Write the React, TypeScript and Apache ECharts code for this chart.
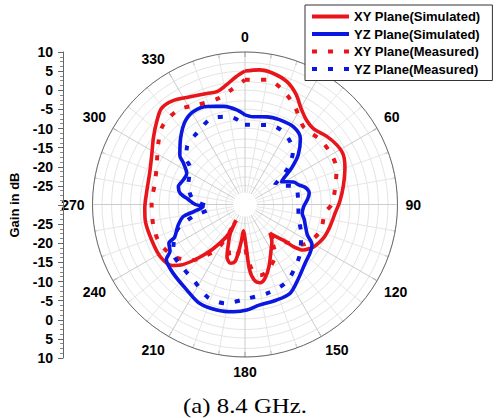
import React, { useEffect, useRef } from "react";
import * as echarts from "echarts";

// Radiation pattern at 8.4 GHz — angle in degrees (clockwise from 0 at top), gain in dB
const xySimAngle = [0, 6, 12, 19, 25, 30, 36, 42, 50, 57, 63, 70, 79, 88, 95, 105, 113, 121, 124, 128, 131, 133, 136, 139, 144, 150, 159, 165, 169, 173, 176, 178, 181, 183.5, 185.5, 188, 190, 194, 199, 203, 207, 208.5, 210, 216, 221, 226, 230, 238, 249, 261, 268, 277, 289, 298, 306, 313, 319, 325, 333, 341, 346, 351, 356, 360];
const xySimGain = [5.0, 5.5, 5.2, 4.0, 1.8, -0.7, -2.6, -3.2, -2.1, -1.3, -1.1, -2.1, -3.7, -5.1, -6.2, -7.0, -7.6, -8.7, -9.4, -10.6, -13.2, -16.3, -18.3, -20.0, -18.0, -16.3, -12.5, -9.9, -9.1, -10.0, -12.8, -18.1, -22.0, -23.1, -20.6, -17.1, -14.8, -14.1, -15.5, -18.9, -21.5, -24.4, -20.3, -15.5, -11.5, -7.3, -5.1, -3.9, -3.8, -3.5, -3.7, -4.0, -3.6, -2.3, -0.3, 1.7, 3.4, 3.2, 1.7, 0.8, 0.5, 1.7, 3.6, 5.0];

const yzSimAngle = [0, 5, 14, 22, 32, 40, 47, 52, 56, 58, 65, 70, 74, 80, 85, 92, 99, 104, 110, 116, 121, 127, 134, 144, 153, 162, 172, 179, 186, 195, 205, 214, 226, 235, 238, 243, 245, 253, 259, 262, 267, 270, 275, 280, 285, 292, 298, 304, 307, 316, 324, 331, 339, 348, 355, 360];
const yzSimGain = [-6.5, -6.9, -6.3, -6.0, -6.0, -7.4, -10.9, -14.5, -17.8, -18.7, -16.0, -15.0, -13.6, -12.9, -13.5, -14.6, -14.8, -14.0, -13.1, -11.8, -9.5, -8.7, -8.0, -6.1, -3.9, -3.6, -3.35, -2.3, -1.7, -1.35, -1.5, -2.85, -3.9, -4.8, -6.8, -7.6, -9.6, -11.7, -13.5, -16.3, -19.0, -17.0, -15.1, -12.7, -11.9, -12.6, -12.7, -10.5, -8.6, -5.7, -3.2, -2.1, -2.45, -3.7, -5.1, -6.5];

const xyMeasAngle = [0, 10, 18, 27, 37, 49, 60, 69, 80, 90, 96, 110, 125, 133, 141, 149, 162, 168, 173, 178, 183, 187, 191, 197, 203, 206, 209, 211, 217, 223, 233, 245, 256, 271, 284, 296, 305, 314, 325, 334, 346, 353, 360];
const xyMeasGain = [2.7, 3.2, 1.7, -1.2, -4.5, -4.0, -3.8, -4.3, -6.0, -7.3, -8.9, -9.1, -11.7, -15.5, -19.7, -14.6, -11.5, -11.0, -12.2, -16.5, -21.5, -18.0, -15.5, -16.0, -19.0, -20.0, -25.5, -17.0, -13.4, -10.1, -7.1, -5.5, -5.3, -5.5, -5.7, -4.3, -2.2, -0.1, 0.35, -1.0, -1.3, 0.25, 2.7];

const yzMeasAngle = [0, 17, 29, 42, 50, 57, 70, 85, 104, 117, 130, 143, 153, 166, 180, 191, 202, 214, 224, 236, 249, 257, 264, 275, 289, 304, 308, 315, 326, 339, 350, 360];
const yzMeasGain = [-9.1, -8.2, -8.6, -11.2, -15.5, -20.6, -16.1, -16.0, -15.5, -13.5, -11.0, -8.6, -6.8, -6.0, -5.2, -3.6, -3.8, -6.0, -6.7, -7.3, -10.8, -16.0, -20.8, -16.4, -14.3, -12.6, -10.5, -8.5, -7.4, -5.8, -6.6, -9.1];

const seriesNames = [
  "XY Plane(Simulated)",
  "YZ Plane(Simulated)",
  "XY Plane(Measured)",
  "YZ Plane(Measured)",
];

// Left gain scale: 10 at the rim, -30 at the centre, 10 again at the bottom rim
const scaleMin = 0;
const scaleMax = 80;
const scaleStep = 5;

const RED = "#e8151b";
const BLUE = "#0a17e0";
const FONT = 'Arial, "Liberation Sans", sans-serif';

const pairs = (angles: number[], gains: number[]) =>
  angles.map((a, i) => [gains[i], a]);

export default function App() {
  const ref = useRef<HTMLDivElement>(null);

  useEffect(() => {
    if (!ref.current) return;
    const chart = echarts.init(ref.current, null, { renderer: "svg" });

    const solid = (color: string) => ({
      color,
      width: 3.6,
      type: "solid" as const,
    });
    const dotted = (color: string) => ({
      color,
      width: 4,
      type: [5, 11] as number[],
    });

    const polarSeries = (i: number, color: string, line: object, data: number[][]) => ({
      name: seriesNames[i],
      type: "line",
      coordinateSystem: "polar",
      symbol: "none",
      smooth: 0.3,
      color,
      lineStyle: line,
      data,
    });

    chart.setOption({
      animation: false,
      polar: { center: [245, 204.5], radius: 152.5 },
      angleAxis: {
        type: "value",
        min: 0,
        max: 360,
        interval: 30,
        startAngle: 90,
        clockwise: true,
        axisLine: { show: true, lineStyle: { color: "#6a6a6a", width: 1 } },
        axisTick: { show: true, inside: true, length: 5, lineStyle: { color: "#6a6a6a" } },
        minorTick: { show: true, splitNumber: 3, length: 4, lineStyle: { color: "#8a8a8a" } },
        splitLine: { show: true, lineStyle: { color: "#cccccc", width: 1 } },
        minorSplitLine: { show: true, lineStyle: { color: "#e6e6e6", width: 1 } },
        axisLabel: {
          formatter: (v: number) => (v === 360 ? "" : String(v)),
          fontWeight: "bold",
          fontSize: 14,
          fontFamily: FONT,
          color: "#000",
          margin: 8,
        },
      },
      radiusAxis: {
        type: "value",
        min: -30,
        max: 10,
        interval: 2.5,
        axisLine: { show: false },
        axisTick: { show: false },
        axisLabel: { show: false },
        splitLine: { show: true, lineStyle: { color: "#e4e4e4", width: 1 } },
      },
      grid: { left: 63, top: 52, width: 1, height: 306 },
      xAxis: { type: "value", show: false, min: 0, max: 1 },
      yAxis: {
        type: "value",
        min: scaleMin,
        max: scaleMax,
        interval: scaleStep,
        axisLine: { show: true, lineStyle: { color: "#666" } },
        axisTick: { show: true, length: 5, lineStyle: { color: "#666" } },
        minorTick: { show: true, splitNumber: 4, length: 3, lineStyle: { color: "#888" } },
        splitLine: { show: false },
        axisLabel: {
          formatter: (v: number) => (v === 40 ? "" : String(-30 + Math.abs(v - 40))),
          fontWeight: "bold",
          fontSize: 14,
          fontFamily: FONT,
          color: "#000",
          margin: 10,
        },
        name: "Gain in dB",
        nameLocation: "middle",
        nameRotate: 90,
        nameGap: 42,
        nameTextStyle: { fontWeight: "bold", fontSize: 13, fontFamily: FONT, color: "#000" },
      },
      legend: {
        orient: "vertical",
        left: 305,
        top: 5,
        itemWidth: 37,
        itemHeight: 14,
        itemGap: 4.5,
        padding: [5, 12, 5, 5],
        backgroundColor: "#fff",
        borderColor: "#333",
        borderWidth: 1,
        z: 10,
        itemStyle: { opacity: 0 },
        lineStyle: { width: 4 },
        data: seriesNames,
        textStyle: { fontWeight: "bold", fontSize: 13, fontFamily: FONT, color: "#000" },
      },
      graphic: [
        {
          type: "circle",
          shape: { cx: 245, cy: 204.5, r: 12 },
          style: { fill: "#fff" },
          z: 1,
        },
        {
          type: "text",
          x: 245,
          y: 406,
          scaleX: 1.18,
          style: {
            text: "(a) 8.4 GHz.",
            font: '21px "Liberation Serif", "Times New Roman", serif',
            fill: "#000",
            align: "center",
            verticalAlign: "middle",
          },
        },
      ],
      series: [
        polarSeries(0, RED, solid(RED), pairs(xySimAngle, xySimGain)),
        polarSeries(1, BLUE, solid(BLUE), pairs(yzSimAngle, yzSimGain)),
        polarSeries(2, RED, dotted(RED), pairs(xyMeasAngle, xyMeasGain)),
        polarSeries(3, BLUE, dotted(BLUE), pairs(yzMeasAngle, yzMeasGain)),
        {
          type: "line",
          xAxisIndex: 0,
          yAxisIndex: 0,
          data: [],
          silent: true,
        },
      ],
    });

    return () => chart.dispose();
  }, []);

  return (
    <div
      ref={ref}
      style={{ position: "absolute", left: 0, top: 0, width: 497, height: 418, background: "#fff" }}
    />
  );
}
